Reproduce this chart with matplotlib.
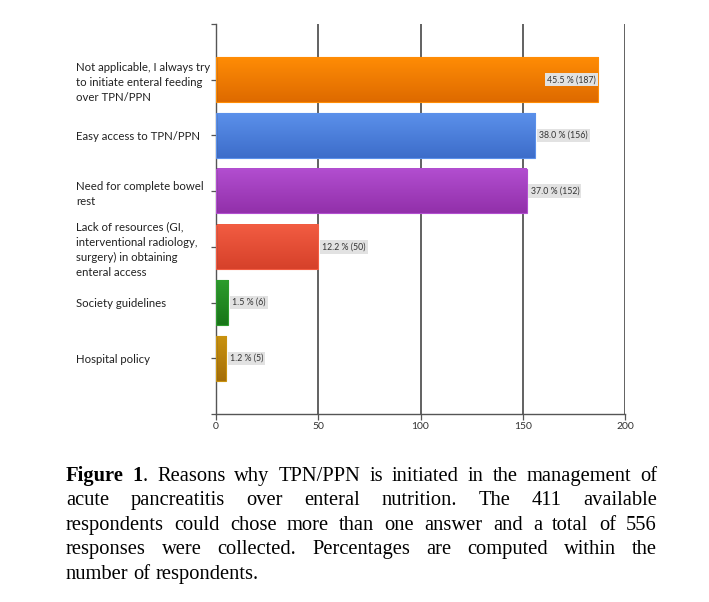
import numpy as np
import matplotlib
matplotlib.use('agg')
import matplotlib.pyplot as plt
from matplotlib.colors import LinearSegmentedColormap

# Data
reasons = ['Not applicable, I always try\nto initiate enteral feeding\nover TPN/PPN',
           'Easy access to TPN/PPN',
           'Need for complete bowel\nrest',
           'Lack of resources (GI,\ninterventional radiology,\nsurgery) in obtaining\nenteral access',
           'Society guidelines',
           'Hospital policy']
counts = [187, 156, 152, 50, 6, 5]
percents = [45.5, 38.0, 37.0, 12.2, 1.5, 1.2]
top_colors = ['#ff8c05', '#5b90ea', '#b24ed0', '#f25c42', '#2c9c2c', '#c9920f']
bot_colors = ['#de6a00', '#3d6dca', '#9230aa', '#d6412a', '#187618', '#a56e08']
xticks = [0, 50, 100, 150, 200]

caption_lines = [
    'Figure 1. Reasons why TPN/PPN is initiated in the management of',
    'acute pancreatitis over enteral nutrition. The 411 available',
    'respondents could chose more than one answer and a total of 556',
    'responses were collected. Percentages are computed within the',
    'number of respondents.',
]

W, H = 709, 602
fig = plt.figure(figsize=(W / 100, H / 100), dpi=100)
ax = fig.add_axes([216 / W, 1 - 414 / H, (625 - 216) / W, (414 - 24) / H])

ypos = np.arange(len(counts))
bh = 0.8
grey = '#555555'

ax.set_xlim(0, 200)
ax.set_ylim(len(counts), -1)
for x in xticks[1:]:
    ax.axvline(x, color=grey, lw=1.3, zorder=0)

grad = np.linspace(0, 1, 64).reshape(-1, 1)
for i, (c, t, b) in enumerate(zip(counts, top_colors, bot_colors)):
    cmap = LinearSegmentedColormap.from_list('g%d' % i, [t, b])
    ax.imshow(grad, cmap=cmap, aspect='auto', interpolation='bilinear',
              extent=(0, c, i + bh / 2, i - bh / 2), zorder=2)
    ax.add_patch(plt.Rectangle((0, i - bh / 2), c, bh, fill=False,
                               ec=t, lw=0.8, zorder=3))
    lbl = '%.1f %% (%d)' % (percents[i], c)
    box = dict(boxstyle='square,pad=0.25', fc='#e2e2e2', ec='none')
    if c > 170:
        ax.text(c - 1.2, i, lbl, ha='right', va='center', fontsize=6.3,
                color='#333333', bbox=box, zorder=4, family='Lato')
    else:
        ax.text(c + 1.8, i, lbl, ha='left', va='center', fontsize=6.3,
                color='#333333', bbox=box, zorder=4, family='Lato')

ax.set_xlim(0, 200)
ax.set_ylim(len(counts), -1)

ax.set_yticks(ypos)
ax.set_yticklabels(reasons, fontsize=8.2, color='#222222', family='Lato',
                   ha='left', linespacing=1.45)
ax.set_yticks([-1, len(counts)], minor=True)
ax.tick_params(axis='y', which='both', length=3.6, width=0.9, color=grey)
ax.tick_params(axis='y', which='major', pad=97)
ax.set_xticks(xticks)
ax.set_xticklabels([str(v) for v in xticks], fontsize=7.5, color='#333333',
                   family='Lato')
ax.tick_params(axis='x', length=4, width=0.9, color=grey, pad=2)
for s in ['top', 'right']:
    ax.spines[s].set_visible(False)
for s in ['left', 'bottom']:
    ax.spines[s].set_color(grey)
    ax.spines[s].set_linewidth(1.0)

# Justified caption below the chart
renderer = fig.canvas.get_renderer()
x_left, x_right = 66, 657
base_y = 481
line_step = 24.4
fs = 14.8


def word_width(word, weight):
    t = fig.text(0, 0, word, fontsize=fs, family='Liberation Serif',
                 weight=weight)
    w = t.get_window_extent(renderer).width
    t.remove()
    return w


for li, line in enumerate(caption_lines):
    words = line.split(' ')
    tokens = []
    for wi, w in enumerate(words):
        if li == 0 and wi == 0:
            tokens.append([('Figure', 'bold')])
        elif li == 0 and wi == 1:
            tokens.append([('1', 'bold'), ('.', 'normal')])
        else:
            tokens.append([(w, 'normal')])
    widths = [sum(word_width(s, wt) for s, wt in tok) for tok in tokens]
    if li < len(caption_lines) - 1:
        gap = (x_right - x_left - sum(widths)) / (len(tokens) - 1)
    else:
        gap = word_width('a b', 'normal') - word_width('ab', 'normal')
    x = x_left
    y = H - (base_y + li * line_step)
    for tok, tw in zip(tokens, widths):
        xx = x
        for s, wt in tok:
            fig.text(xx / W, y / H, s, fontsize=fs, family='Liberation Serif',
                     weight=wt, va='baseline', ha='left')
            xx += word_width(s, wt)
        x += tw + gap

fig.savefig('out.png', dpi=100)
